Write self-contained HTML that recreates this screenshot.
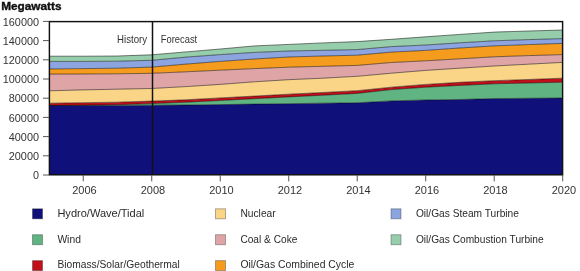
<!DOCTYPE html>
<html><head><meta charset="utf-8"><style>html,body{margin:0;padding:0;background:#fff;width:580px;height:271px;overflow:hidden}</style></head>
<body><svg width="580" height="271" viewBox="0 0 580 271" style="position:absolute;left:0;top:0;font-family:'Liberation Sans',sans-serif">
<rect x="0" y="0" width="580" height="271" fill="#fff"/>
<polygon points="49.00,105.50 83.25,105.50 117.49,105.40 151.74,105.20 185.99,105.00 220.23,104.60 254.48,104.10 288.73,103.70 322.97,103.20 357.22,102.80 391.47,100.90 425.71,100.00 459.96,99.50 494.21,98.60 528.45,98.30 562.70,98.00 562.70,175.00 528.45,175.00 494.21,175.00 459.96,175.00 425.71,175.00 391.47,175.00 357.22,175.00 322.97,175.00 288.73,175.00 254.48,175.00 220.23,175.00 185.99,175.00 151.74,175.00 117.49,175.00 83.25,175.00 49.00,175.00" fill="#10107a"/><polygon points="49.00,105.50 83.25,105.20 117.49,104.70 151.74,103.60 185.99,102.20 220.23,100.50 254.48,98.70 288.73,96.90 322.97,95.20 357.22,93.40 391.47,89.60 425.71,87.20 459.96,85.40 494.21,83.80 528.45,83.00 562.70,82.20 562.70,98.00 528.45,98.30 494.21,98.60 459.96,99.50 425.71,100.00 391.47,100.90 357.22,102.80 322.97,103.20 288.73,103.70 254.48,104.10 220.23,104.60 185.99,105.00 151.74,105.20 117.49,105.40 83.25,105.50 49.00,105.50" fill="#5fb482"/><polygon points="49.00,103.20 83.25,102.70 117.49,102.20 151.74,101.10 185.99,99.80 220.23,97.90 254.48,96.10 288.73,94.20 322.97,92.50 357.22,90.70 391.47,87.20 425.71,84.40 459.96,82.30 494.21,80.70 528.45,79.50 562.70,78.20 562.70,82.20 528.45,83.00 494.21,83.80 459.96,85.40 425.71,87.20 391.47,89.60 357.22,93.40 322.97,95.20 288.73,96.90 254.48,98.70 220.23,100.50 185.99,102.20 151.74,103.60 117.49,104.70 83.25,105.20 49.00,105.50" fill="#c0101a"/><polygon points="49.00,90.80 83.25,89.90 117.49,89.20 151.74,88.50 185.99,86.60 220.23,84.40 254.48,81.80 288.73,79.70 322.97,78.20 357.22,76.30 391.47,73.20 425.71,70.40 459.96,68.20 494.21,66.00 528.45,64.20 562.70,62.40 562.70,78.20 528.45,79.50 494.21,80.70 459.96,82.30 425.71,84.40 391.47,87.20 357.22,90.70 322.97,92.50 288.73,94.20 254.48,96.10 220.23,97.90 185.99,99.80 151.74,101.10 117.49,102.20 83.25,102.70 49.00,103.20" fill="#fad588"/><polygon points="49.00,74.10 83.25,74.00 117.49,73.80 151.74,73.30 185.99,71.80 220.23,70.20 254.48,68.60 288.73,67.20 322.97,66.30 357.22,65.40 391.47,62.50 425.71,60.80 459.96,58.80 494.21,56.80 528.45,55.60 562.70,54.60 562.70,62.40 528.45,64.20 494.21,66.00 459.96,68.20 425.71,70.40 391.47,73.20 357.22,76.30 322.97,78.20 288.73,79.70 254.48,81.80 220.23,84.40 185.99,86.60 151.74,88.50 117.49,89.20 83.25,89.90 49.00,90.80" fill="#dfa5a6"/><polygon points="49.00,69.00 83.25,68.60 117.49,68.20 151.74,67.10 185.99,64.10 220.23,61.40 254.48,59.00 288.73,57.00 322.97,56.00 357.22,55.20 391.47,52.10 425.71,50.40 459.96,48.00 494.21,45.90 528.45,44.60 562.70,43.40 562.70,54.60 528.45,55.60 494.21,56.80 459.96,58.80 425.71,60.80 391.47,62.50 357.22,65.40 322.97,66.30 288.73,67.20 254.48,68.60 220.23,70.20 185.99,71.80 151.74,73.30 117.49,73.80 83.25,74.00 49.00,74.10" fill="#f59c1e"/><polygon points="49.00,61.40 83.25,61.40 117.49,61.20 151.74,60.30 185.99,57.10 220.23,54.60 254.48,52.40 288.73,51.00 322.97,50.30 357.22,49.60 391.47,46.60 425.71,45.00 459.96,42.80 494.21,40.80 528.45,39.60 562.70,38.60 562.70,43.40 528.45,44.60 494.21,45.90 459.96,48.00 425.71,50.40 391.47,52.10 357.22,55.20 322.97,56.00 288.73,57.00 254.48,59.00 220.23,61.40 185.99,64.10 151.74,67.10 117.49,68.20 83.25,68.60 49.00,69.00" fill="#8ca5e1"/><polygon points="49.00,56.20 83.25,56.20 117.49,56.00 151.74,54.80 185.99,51.90 220.23,49.00 254.48,45.90 288.73,44.40 322.97,42.90 357.22,41.60 391.47,39.30 425.71,36.80 459.96,34.40 494.21,32.10 528.45,31.00 562.70,30.00 562.70,38.60 528.45,39.60 494.21,40.80 459.96,42.80 425.71,45.00 391.47,46.60 357.22,49.60 322.97,50.30 288.73,51.00 254.48,52.40 220.23,54.60 185.99,57.10 151.74,60.30 117.49,61.20 83.25,61.40 49.00,61.40" fill="#96cdaa"/>
<polyline points="49.00,105.50 83.25,105.50 117.49,105.40 151.74,105.20 185.99,105.00 220.23,104.60 254.48,104.10 288.73,103.70 322.97,103.20 357.22,102.80 391.47,100.90 425.71,100.00 459.96,99.50 494.21,98.60 528.45,98.30 562.70,98.00" fill="none" stroke="rgba(0,0,0,0.5)" stroke-width="1"/><polyline points="49.00,105.50 83.25,105.20 117.49,104.70 151.74,103.60 185.99,102.20 220.23,100.50 254.48,98.70 288.73,96.90 322.97,95.20 357.22,93.40 391.47,89.60 425.71,87.20 459.96,85.40 494.21,83.80 528.45,83.00 562.70,82.20" fill="none" stroke="rgba(0,0,0,0.5)" stroke-width="1"/><polyline points="49.00,103.20 83.25,102.70 117.49,102.20 151.74,101.10 185.99,99.80 220.23,97.90 254.48,96.10 288.73,94.20 322.97,92.50 357.22,90.70 391.47,87.20 425.71,84.40 459.96,82.30 494.21,80.70 528.45,79.50 562.70,78.20" fill="none" stroke="rgba(0,0,0,0.5)" stroke-width="1"/><polyline points="49.00,90.80 83.25,89.90 117.49,89.20 151.74,88.50 185.99,86.60 220.23,84.40 254.48,81.80 288.73,79.70 322.97,78.20 357.22,76.30 391.47,73.20 425.71,70.40 459.96,68.20 494.21,66.00 528.45,64.20 562.70,62.40" fill="none" stroke="rgba(0,0,0,0.5)" stroke-width="1"/><polyline points="49.00,74.10 83.25,74.00 117.49,73.80 151.74,73.30 185.99,71.80 220.23,70.20 254.48,68.60 288.73,67.20 322.97,66.30 357.22,65.40 391.47,62.50 425.71,60.80 459.96,58.80 494.21,56.80 528.45,55.60 562.70,54.60" fill="none" stroke="rgba(0,0,0,0.5)" stroke-width="1"/><polyline points="49.00,69.00 83.25,68.60 117.49,68.20 151.74,67.10 185.99,64.10 220.23,61.40 254.48,59.00 288.73,57.00 322.97,56.00 357.22,55.20 391.47,52.10 425.71,50.40 459.96,48.00 494.21,45.90 528.45,44.60 562.70,43.40" fill="none" stroke="rgba(0,0,0,0.5)" stroke-width="1"/><polyline points="49.00,61.40 83.25,61.40 117.49,61.20 151.74,60.30 185.99,57.10 220.23,54.60 254.48,52.40 288.73,51.00 322.97,50.30 357.22,49.60 391.47,46.60 425.71,45.00 459.96,42.80 494.21,40.80 528.45,39.60 562.70,38.60" fill="none" stroke="rgba(0,0,0,0.5)" stroke-width="1"/><polyline points="49.00,56.20 83.25,56.20 117.49,56.00 151.74,54.80 185.99,51.90 220.23,49.00 254.48,45.90 288.73,44.40 322.97,42.90 357.22,41.60 391.47,39.30 425.71,36.80 459.96,34.40 494.21,32.10 528.45,31.00 562.70,30.00" fill="none" stroke="rgba(0,0,0,0.5)" stroke-width="1"/>
<line x1="152.5" y1="21.6" x2="152.5" y2="174.8" stroke="#111" stroke-width="1.5"/>
<rect x="49.4" y="21.6" width="513.2" height="153.2" fill="none" stroke="#111" stroke-width="1.45"/>
<g style="will-change:transform"><text x="1.2" y="9.6" font-weight="bold" font-size="10.2" textLength="60.3" lengthAdjust="spacingAndGlyphs" fill="#111" stroke="#111" stroke-width="0.35">Megawatts</text><text x="39" y="179.20" font-size="10.8" text-anchor="end" textLength="6.0" lengthAdjust="spacingAndGlyphs" fill="#333">0</text><line x1="43" y1="175.00" x2="49" y2="175.00" stroke="#555" stroke-width="1"/><text x="39" y="160.00" font-size="10.8" text-anchor="end" textLength="30.2" lengthAdjust="spacingAndGlyphs" fill="#333">20000</text><line x1="43" y1="155.80" x2="49" y2="155.80" stroke="#555" stroke-width="1"/><text x="39" y="140.80" font-size="10.8" text-anchor="end" textLength="30.2" lengthAdjust="spacingAndGlyphs" fill="#333">40000</text><line x1="43" y1="136.60" x2="49" y2="136.60" stroke="#555" stroke-width="1"/><text x="39" y="121.60" font-size="10.8" text-anchor="end" textLength="30.2" lengthAdjust="spacingAndGlyphs" fill="#333">60000</text><line x1="43" y1="117.40" x2="49" y2="117.40" stroke="#555" stroke-width="1"/><text x="39" y="102.40" font-size="10.8" text-anchor="end" textLength="30.2" lengthAdjust="spacingAndGlyphs" fill="#333">80000</text><line x1="43" y1="98.20" x2="49" y2="98.20" stroke="#555" stroke-width="1"/><text x="39" y="83.20" font-size="10.8" text-anchor="end" textLength="36.2" lengthAdjust="spacingAndGlyphs" fill="#333">100000</text><line x1="43" y1="79.00" x2="49" y2="79.00" stroke="#555" stroke-width="1"/><text x="39" y="64.00" font-size="10.8" text-anchor="end" textLength="36.2" lengthAdjust="spacingAndGlyphs" fill="#333">120000</text><line x1="43" y1="59.80" x2="49" y2="59.80" stroke="#555" stroke-width="1"/><text x="39" y="44.80" font-size="10.8" text-anchor="end" textLength="36.2" lengthAdjust="spacingAndGlyphs" fill="#333">140000</text><line x1="43" y1="40.60" x2="49" y2="40.60" stroke="#555" stroke-width="1"/><text x="39" y="25.60" font-size="10.8" text-anchor="end" textLength="36.2" lengthAdjust="spacingAndGlyphs" fill="#333">160000</text><line x1="43" y1="21.40" x2="49" y2="21.40" stroke="#555" stroke-width="1"/><text x="84.45" y="193.8" font-size="10.8" text-anchor="middle" textLength="24.5" lengthAdjust="spacingAndGlyphs" fill="#333">2006</text><line x1="83.25" y1="175" x2="83.25" y2="181.4" stroke="#555" stroke-width="1"/><text x="152.94" y="193.8" font-size="10.8" text-anchor="middle" textLength="24.5" lengthAdjust="spacingAndGlyphs" fill="#333">2008</text><line x1="151.74" y1="175" x2="151.74" y2="181.4" stroke="#555" stroke-width="1"/><text x="221.43" y="193.8" font-size="10.8" text-anchor="middle" textLength="24.5" lengthAdjust="spacingAndGlyphs" fill="#333">2010</text><line x1="220.23" y1="175" x2="220.23" y2="181.4" stroke="#555" stroke-width="1"/><text x="289.93" y="193.8" font-size="10.8" text-anchor="middle" textLength="24.5" lengthAdjust="spacingAndGlyphs" fill="#333">2012</text><line x1="288.73" y1="175" x2="288.73" y2="181.4" stroke="#555" stroke-width="1"/><text x="358.42" y="193.8" font-size="10.8" text-anchor="middle" textLength="24.5" lengthAdjust="spacingAndGlyphs" fill="#333">2014</text><line x1="357.22" y1="175" x2="357.22" y2="181.4" stroke="#555" stroke-width="1"/><text x="426.91" y="193.8" font-size="10.8" text-anchor="middle" textLength="24.5" lengthAdjust="spacingAndGlyphs" fill="#333">2016</text><line x1="425.71" y1="175" x2="425.71" y2="181.4" stroke="#555" stroke-width="1"/><text x="495.41" y="193.8" font-size="10.8" text-anchor="middle" textLength="24.5" lengthAdjust="spacingAndGlyphs" fill="#333">2018</text><line x1="494.21" y1="175" x2="494.21" y2="181.4" stroke="#555" stroke-width="1"/><text x="563.90" y="193.8" font-size="10.8" text-anchor="middle" textLength="24.5" lengthAdjust="spacingAndGlyphs" fill="#333">2020</text><line x1="562.70" y1="175" x2="562.70" y2="181.4" stroke="#555" stroke-width="1"/><text x="117.1" y="42.5" font-size="10.6" textLength="30" lengthAdjust="spacingAndGlyphs" fill="#333">History</text><text x="160.7" y="42.5" font-size="10.6" textLength="36.5" lengthAdjust="spacingAndGlyphs" fill="#333">Forecast</text><rect x="32.5" y="208.8" width="10" height="10" fill="#10107a" stroke="rgba(0,0,0,0.3)" stroke-width="1"/><text x="57.4" y="216.9" font-size="10.8" textLength="86.9" lengthAdjust="spacingAndGlyphs" fill="#2a2a2a">Hydro/Wave/Tidal</text><rect x="32.5" y="234.70000000000002" width="10" height="10" fill="#5fb482" stroke="rgba(0,0,0,0.3)" stroke-width="1"/><text x="57.4" y="242.6" font-size="10.8" textLength="23.5" lengthAdjust="spacingAndGlyphs" fill="#2a2a2a">Wind</text><rect x="32.5" y="260.6" width="10" height="10" fill="#c0101a" stroke="rgba(0,0,0,0.3)" stroke-width="1"/><text x="57.4" y="268.3" font-size="10.8" textLength="122.4" lengthAdjust="spacingAndGlyphs" fill="#2a2a2a">Biomass/Solar/Geothermal</text><rect x="215.5" y="208.8" width="10" height="10" fill="#fad588" stroke="rgba(0,0,0,0.3)" stroke-width="1"/><text x="240.4" y="216.9" font-size="10.8" textLength="35.3" lengthAdjust="spacingAndGlyphs" fill="#2a2a2a">Nuclear</text><rect x="215.5" y="234.70000000000002" width="10" height="10" fill="#dfa5a6" stroke="rgba(0,0,0,0.3)" stroke-width="1"/><text x="240.4" y="242.6" font-size="10.8" textLength="57.0" lengthAdjust="spacingAndGlyphs" fill="#2a2a2a">Coal &amp; Coke</text><rect x="215.5" y="260.6" width="10" height="10" fill="#f59c1e" stroke="rgba(0,0,0,0.3)" stroke-width="1"/><text x="240.4" y="268.3" font-size="10.8" textLength="114.0" lengthAdjust="spacingAndGlyphs" fill="#2a2a2a">Oil/Gas Combined Cycle</text><rect x="391.0" y="208.8" width="10" height="10" fill="#8ca5e1" stroke="rgba(0,0,0,0.3)" stroke-width="1"/><text x="415.9" y="216.9" font-size="10.8" textLength="103.0" lengthAdjust="spacingAndGlyphs" fill="#2a2a2a">Oil/Gas Steam Turbine</text><rect x="391.0" y="234.70000000000002" width="10" height="10" fill="#96cdaa" stroke="rgba(0,0,0,0.3)" stroke-width="1"/><text x="415.9" y="242.6" font-size="10.8" textLength="127.8" lengthAdjust="spacingAndGlyphs" fill="#2a2a2a">Oil/Gas Combustion Turbine</text></g>
</svg></body></html>
